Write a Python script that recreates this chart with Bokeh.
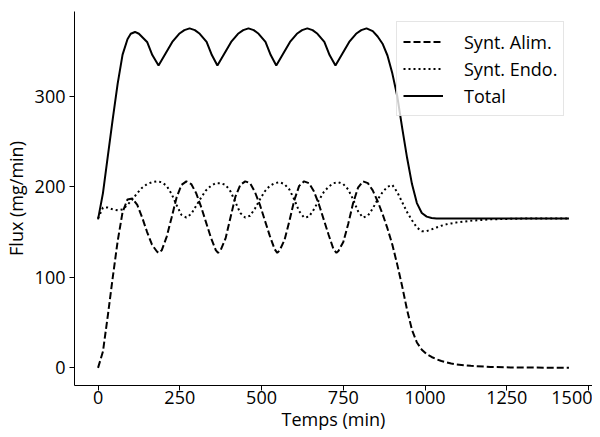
from bokeh.plotting import figure
from bokeh.models import Range1d, FixedTicker, Legend, LegendItem
from bokeh.embed import file_html
from bokeh.resources import INLINE

# ---- Synt. Alim. (dashed) ----
temps_alim = [0, 15, 30, 45, 60, 75, 90, 105, 120, 135,
              150, 165, 180, 185, 195, 210, 225, 240, 255, 270,
              285, 300, 315, 330, 345, 360, 367, 375, 390, 405,
              420, 435, 450, 465, 480, 495, 510, 525, 540, 548,
              555, 570, 585, 600, 615, 630, 645, 660, 675, 690,
              705, 720, 729, 735, 750, 765, 780, 795, 810, 825,
              840, 855, 870, 885, 900, 915, 930, 945, 960, 975,
              990, 1005, 1020, 1035, 1050, 1065, 1080, 1095, 1140, 1200,
              1260, 1320, 1380, 1440]
synt_alim = [0, 18, 58, 100, 140, 172, 186, 187, 180, 166,
             150, 136, 128.5, 127, 130, 145, 166, 188, 202, 206,
             203, 193, 178, 161, 144, 130, 127, 130, 143, 166,
             189, 202, 206, 204, 194, 180, 163, 146, 131, 127,
             129.5, 141, 162, 185, 201, 206, 204, 195, 181, 164,
             147, 131, 127, 129, 139, 159, 182, 199, 206, 204,
             196, 184, 170, 154, 136, 114, 90, 64, 42, 28,
             20, 15, 12, 9.5, 7.5, 6, 4.8, 3.8, 2.2, 1,
             0.5, 0.3, 0.2, 0.1]

# ---- Synt. Endo. (dotted) ----
temps_endo = [0, 15, 30, 45, 60, 75, 90, 105, 120, 135, 150, 165, 180, 195, 210, 225,
              240, 255, 270, 285, 300, 315, 330, 345, 360, 375, 390, 405, 420, 435, 450,
              465, 480, 495, 510, 525, 540, 555, 570, 585, 600, 615, 630, 645, 660, 675,
              690, 705, 720, 735, 750, 765, 780, 795, 810, 825, 840, 855, 870, 885, 900,
              915, 930, 945, 960, 975, 990, 1005, 1020, 1035, 1050, 1065, 1080, 1095,
              1140, 1200, 1260, 1320, 1380, 1440]
synt_endo = [165, 177, 177, 175, 174, 175, 180, 186, 193, 199, 203, 205, 206, 205, 201, 192,
             180, 169, 166, 170, 179, 188, 196, 201, 204, 204, 202, 195, 183, 171, 166,
             168, 176, 186, 195, 201, 204, 205, 203, 197, 186, 173, 166, 167, 175, 185,
             194, 200, 204, 205, 203, 197, 186, 173, 166, 168, 176, 186, 194, 200, 202,
             194, 183, 172, 163, 155, 151, 151, 153, 155, 157, 158.5, 159.5, 160.5,
             162.5, 164, 164.6, 165, 165, 165]

# ---- Total (solid) ----
temps_total = [0, 15, 30, 45, 60, 75, 90, 100, 113, 125,
               150, 166, 185, 206, 227, 248, 264, 280, 296, 311,
               332, 348, 365, 386, 407, 428, 444, 460, 476, 491,
               512, 528, 545, 566, 587, 608, 624, 640, 656, 671,
               692, 708, 726, 747, 768, 789, 805, 821, 840, 855,
               870, 885, 900, 915, 930, 945, 960, 975, 990, 1005,
               1020, 1035, 1095, 1200, 1320, 1440]
total = [164, 193, 234, 275, 314, 346, 363, 369, 371, 369,
         360, 345.5, 334, 347, 360, 369, 373, 375, 373, 369,
         360, 345.5, 334, 347, 360, 369, 373, 375, 373, 369,
         360, 345.5, 334, 347, 360, 369, 373, 375, 373, 369,
         360, 345.5, 334, 347, 360, 369, 373, 375, 372, 366,
         358, 345, 325, 300, 265, 232, 203, 182, 171, 167,
         165.5, 165, 165, 165, 165, 165]

labels = ["Synt. Alim.", "Synt. Endo.", "Total"]
x_ticks = [0, 250, 500, 750, 1000, 1250, 1500]
y_ticks = [0, 100, 200, 300]
x_title = "Temps (min)"
y_title = "Flux (mg/min)"

FONT = "Open Sans"
FS = "18px"

p = figure(width=592, height=436, output_backend="svg", toolbar_location=None,
           x_range=Range1d(-72, 1512), y_range=Range1d(-19.5, 393.6),
           min_border_left=70, min_border_right=0, min_border_top=11,
           min_border_bottom=51)
p.outline_line_color = None
p.grid.visible = False
p.background_fill_color = "white"
p.border_fill_color = "white"

r1 = p.line(temps_alim, synt_alim, line_color="black", line_width=2, line_dash="7 3")
r2 = p.line(temps_endo, synt_endo, line_color="black", line_width=2, line_dash="2 3")
r3 = p.line(temps_total, total, line_color="black", line_width=2)

p.xaxis.ticker = FixedTicker(ticks=x_ticks)
p.yaxis.ticker = FixedTicker(ticks=y_ticks)
p.xaxis.axis_label = x_title
p.yaxis.axis_label = y_title
for ax in (p.xaxis, p.yaxis):
    ax.axis_line_color = "black"
    ax.axis_line_width = 1
    ax.major_tick_line_color = "black"
    ax.major_tick_out = 5
    ax.major_tick_in = 0
    ax.minor_tick_line_color = None
    ax.major_label_text_font = FONT
    ax.major_label_text_font_size = FS
    ax.major_label_text_color = "black"
    ax.axis_label_text_font = FONT
    ax.axis_label_text_font_size = FS
    ax.axis_label_text_font_style = "normal"
    ax.axis_label_text_color = "black"
p.xaxis.major_label_standoff = 0
p.xaxis.axis_label_standoff = 0
p.yaxis.major_label_standoff = 4
p.yaxis.axis_label_standoff = 4

legend = Legend(items=[LegendItem(label=labels[0], renderers=[r1]),
                       LegendItem(label=labels[1], renderers=[r2]),
                       LegendItem(label=labels[2], renderers=[r3])],
                location=(322, 269))
legend.label_text_font = FONT
legend.label_text_font_size = FS
legend.label_text_color = "black"
legend.glyph_width = 40
legend.glyph_height = 27
legend.label_height = 27
legend.label_width = 89
legend.label_standoff = 21
legend.spacing = 0
legend.padding = 6
legend.margin = 0
legend.border_line_color = "#cccccc"
legend.border_line_width = 1
legend.background_fill_alpha = 0.8
p.add_layout(legend)

open("out.html", "w").write(file_html(p, INLINE))
